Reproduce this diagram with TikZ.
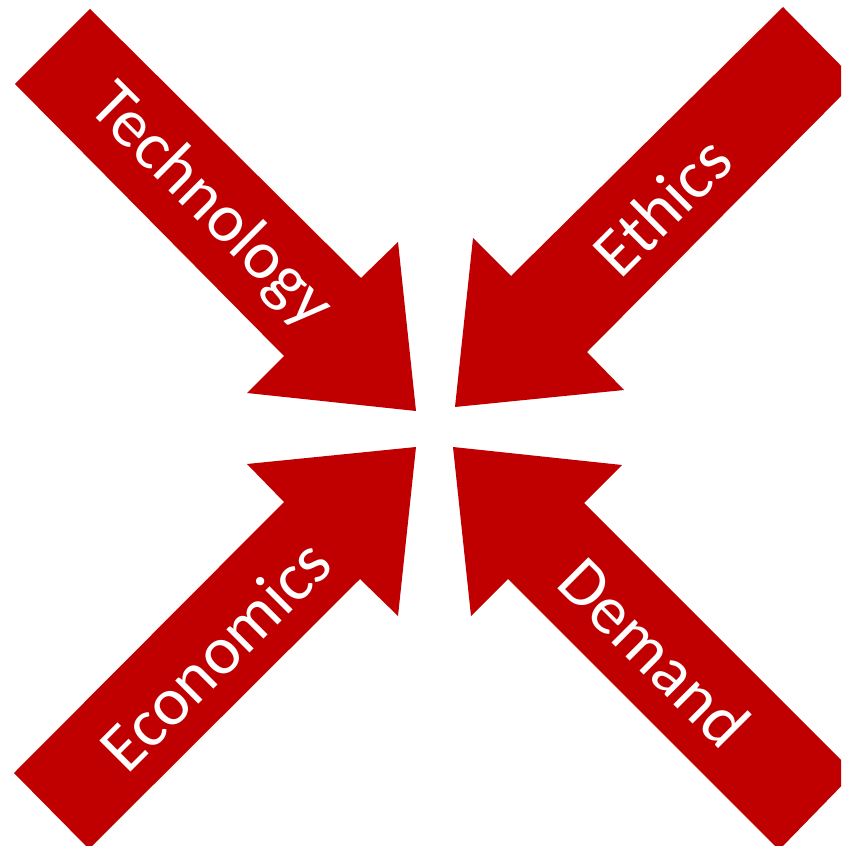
\documentclass[tikz,border=0pt]{standalone}
\usepackage{fontspec}
\setmainfont{Carlito}
\definecolor{arrowred}{RGB}{192,0,0}
\begin{document}
\begin{tikzpicture}[scale=0.2]
\tikzstyle{every node}+=[inner sep=0pt, text=white, font=\fontsize{39}{47}\selectfont]
\useasboundingbox (0,0) rectangle (84.1,-84.6);
\clip (0,0) rectangle (84.1,-84.6);
\fill [arrowred] (9.0,-0.9) -- (36.1,-27.8) -- (39.8,-24.2) -- (41.6,-41.1) -- (24.7,-39.3) -- (28.4,-35.6) -- (1.5,-8.4) -- cycle;
\fill [arrowred] (78.3,-0.7) -- (85.6,-8.1) -- (58.7,-35.2) -- (62.4,-39.0) -- (45.5,-40.7) -- (47.3,-23.8) -- (51.1,-27.6) -- cycle;
\fill [arrowred] (41.6,-44.7) -- (24.7,-46.4) -- (28.4,-50.2) -- (1.4,-77.3) -- (8.9,-84.9) -- (36.0,-57.9) -- (39.8,-61.6) -- cycle;
\fill [arrowred] (45.3,-44.7) -- (62.2,-46.5) -- (58.4,-50.3) -- (85.4,-77.3) -- (77.9,-85.0) -- (50.8,-57.9) -- (47.1,-61.6) -- cycle;
\draw (21.0,-20.7) node [rotate=-45] (technology) {Technology};
\draw (66.2,-20.6) node [rotate=45] (ethics) {Ethics};
\draw (21.5,-65.5) node [rotate=45] (economics) {Economics};
\draw (65.5,-65.2) node [rotate=-45] (demand) {Demand};
\end{tikzpicture}
\end{document}
